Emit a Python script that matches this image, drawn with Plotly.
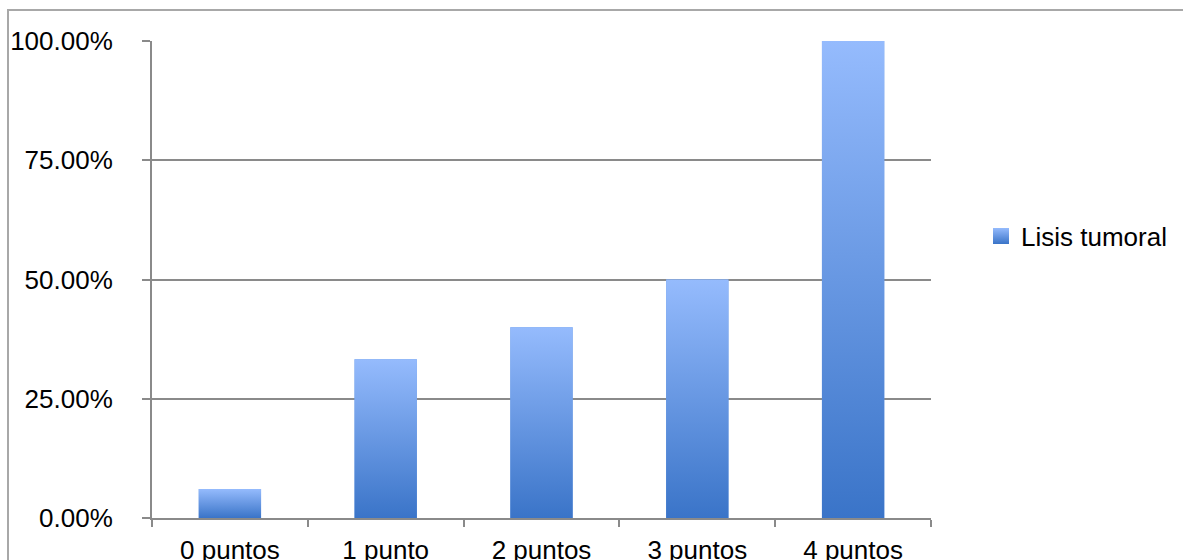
import plotly.graph_objects as go

categories = ["0 puntos", "1 punto", "2 puntos", "3 puntos", "4 puntos"]
values = [0.061, 0.333, 0.40, 0.50, 1.00]
series_name = "Lisis tumoral"

color_top = "#95bbfd"
color_bottom = "#3a74c8"
axis_gray = "#8a8a8a"
bar_width = 0.4

fig = go.Figure()

# base bars on categorical axis
fig.add_trace(go.Bar(
    x=categories, y=values, width=bar_width,
    marker=dict(color="#6a9be3", line=dict(width=0)),
    showlegend=False, hoverinfo="skip",
))

# gradient overlays on a matching numeric axis
for i, v in enumerate(values):
    x0, x1 = i - bar_width / 2, i + bar_width / 2
    fig.add_trace(go.Scatter(
        x=[x0, x0, x1, x1, x0], y=[0, v, v, 0, 0],
        xaxis="x2", mode="lines", line=dict(width=0),
        fill="toself",
        fillgradient=dict(type="vertical",
                          colorscale=[[0, color_bottom], [1, color_top]],
                          start=0, stop=v),
        showlegend=False, hoverinfo="skip",
    ))

# legend entry
fig.add_trace(go.Scatter(
    x=[None], y=[None], xaxis="x2", mode="markers", name=series_name,
    marker=dict(symbol="square", size=16, color=color_top,
                gradient=dict(type="vertical", color=color_bottom),
                line=dict(width=0)),
))

L, R, T, B = 152, 252, 41, 42
W, H = 1183, 560
pw, ph = W - L - R, H - T - B

fig.update_layout(
    width=W, height=H,
    margin=dict(l=L, r=R, t=T, b=B, autoexpand=False),
    paper_bgcolor="white", plot_bgcolor="white",
    font=dict(family="Liberation Sans, Arial, sans-serif", size=26, color="black"),
    bargap=0.6,
    xaxis=dict(
        type="category", range=[-0.5, 4.5], tickson="boundaries",
        ticks="outside", ticklen=7, tickwidth=2, tickcolor=axis_gray,
        showline=True, linecolor=axis_gray, linewidth=2,
        showgrid=False, zeroline=False, ticklabelstandoff=8, automargin=False,
    ),
    xaxis2=dict(overlaying="x", range=[-0.5, 4.5], visible=False),
    yaxis=dict(
        range=[0, 1], tickvals=[0, 0.25, 0.5, 0.75, 1.0], tickformat=".2%",
        ticks="outside", ticklen=8, tickwidth=2, tickcolor=axis_gray,
        showline=True, linecolor=axis_gray, linewidth=2,
        showgrid=True, gridcolor=axis_gray, gridwidth=2, zeroline=False,
        ticklabelstandoff=24, automargin=False,
    ),
    legend=dict(
        x=(981 - L) / pw, xanchor="left",
        y=(H - B - 236) / ph, yanchor="middle",
        bgcolor="rgba(0,0,0,0)", font=dict(size=26),
    ),
    shapes=[dict(
        type="rect", xref="paper", yref="paper", layer="below",
        x0=(8 - L) / pw, x1=1.6, y0=-0.5, y1=1 + (T - 10) / ph,
        line=dict(color="#a8a8a8", width=2), fillcolor="rgba(0,0,0,0)",
    )],
)

fig.write_html("out.html")
